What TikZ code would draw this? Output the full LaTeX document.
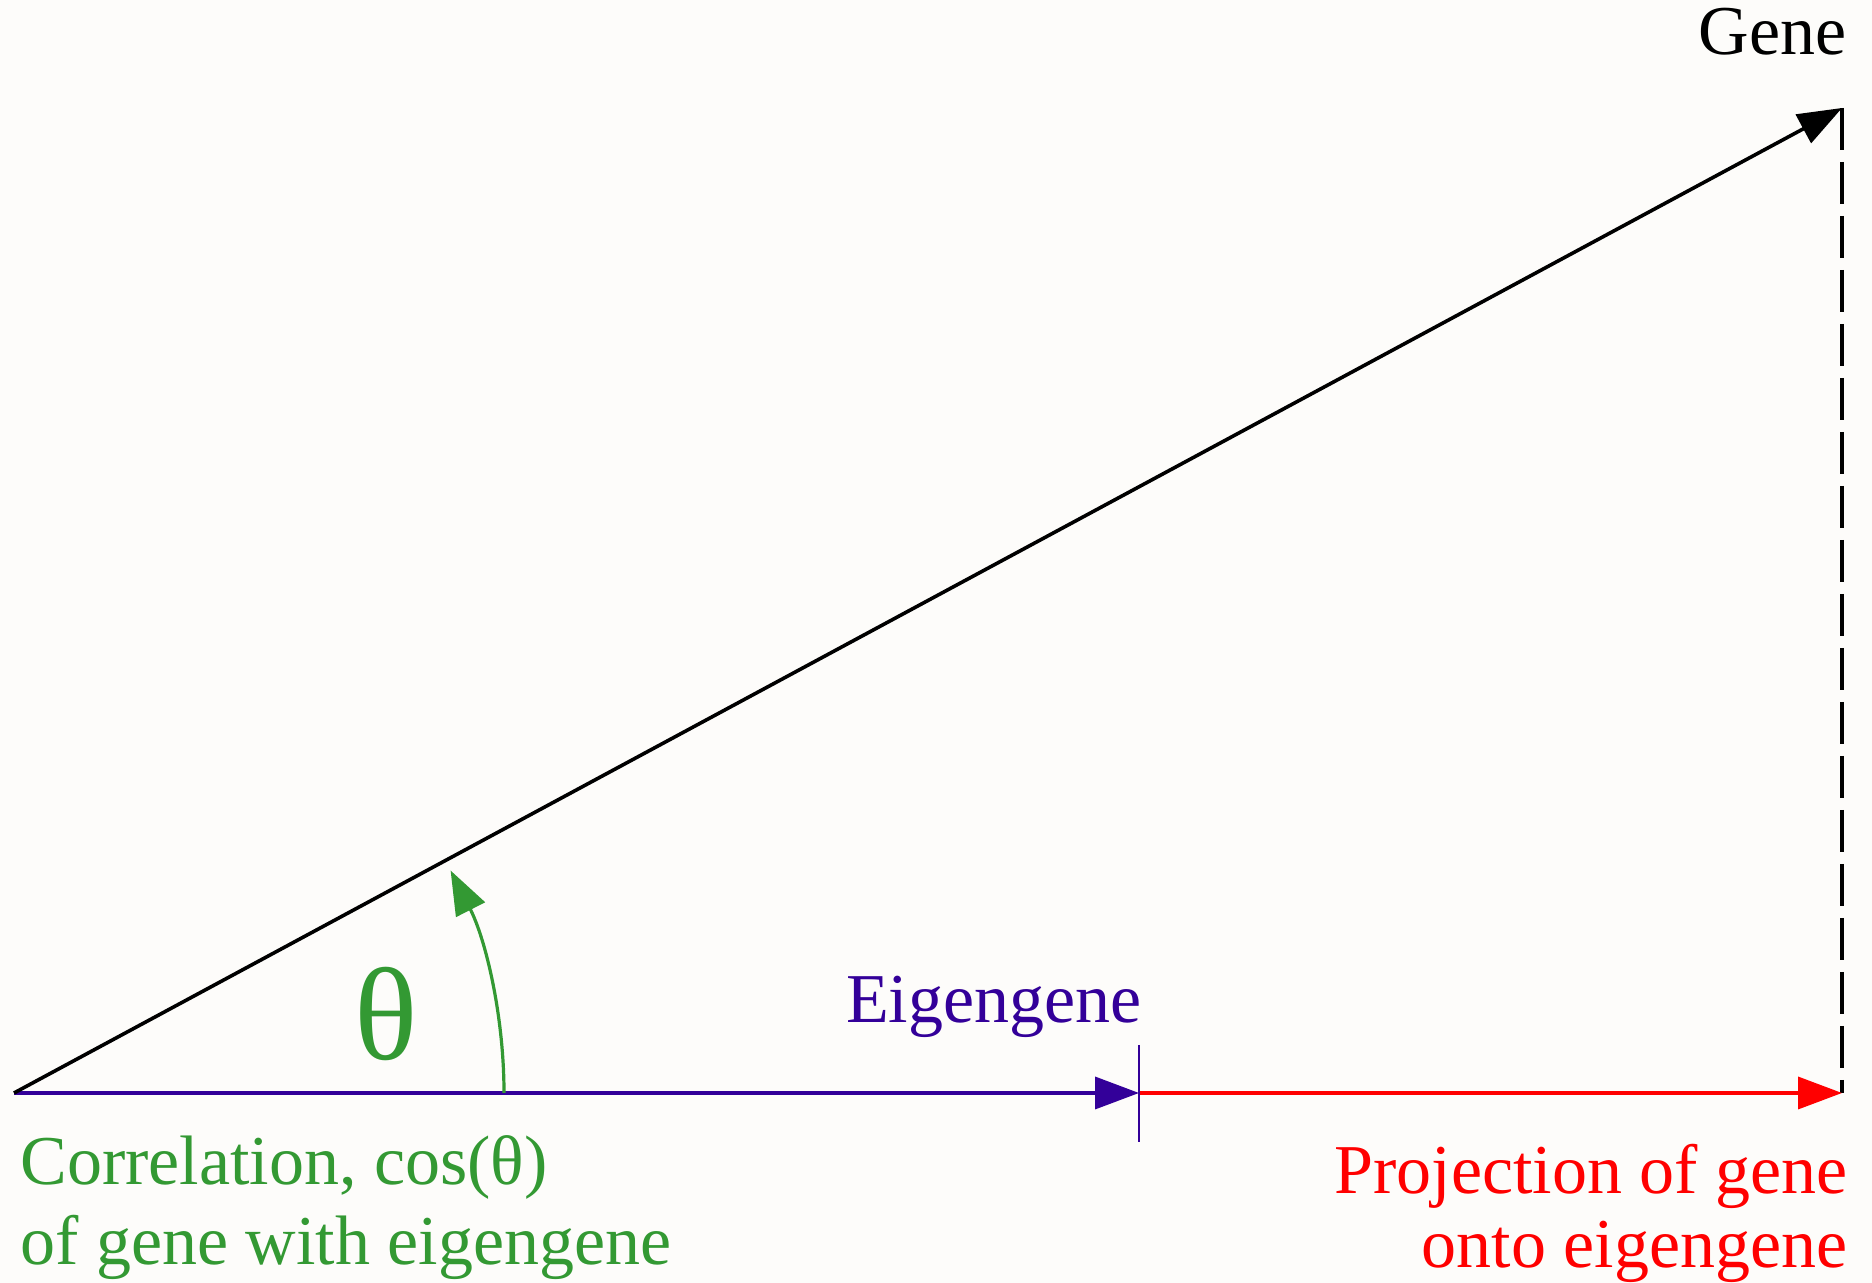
\documentclass[tikz,border=0pt]{standalone}
\usepackage{fontspec}
\setmainfont{Liberation Serif}
\usepackage{xcolor}
\usetikzlibrary{arrows.meta,positioning,calc}
\definecolor{eigpurple}{RGB}{51,0,153}
\definecolor{corrgreen}{RGB}{51,153,51}
\definecolor{projred}{RGB}{255,0,0}
\definecolor{paper}{RGB}{253,252,250}

\begin{document}
\begin{tikzpicture}[x=0.5pt, y=0.5pt, >={Triangle[length=22pt,width=16pt]},
  txt/.style={inner sep=0pt, font=\fontsize{35}{40}\selectfont},
  vec/.style={->, line width=1.8pt}]
\fill[paper] (0,0) rectangle (1872,1283);
\useasboundingbox (0,0) rectangle (1872,1283);
\coordinate (origin) at (14,190);
\coordinate (gene) at (1842,1175);
\coordinate (eig) at (1139,190);
\coordinate (proj) at (1842,190);
\coordinate (foot) at ($(origin)+(490,0)$);
% vectors
\draw[line width=1.7pt, dash pattern=on 21pt off 6pt] (gene) -- (proj);
\draw[vec, eigpurple] (origin) -- (eig);
\draw[vec, projred] (eig) -- (proj);
\draw[vec] (origin) -- (gene);
\draw[eigpurple, line width=1.2pt] ($(eig)+(0,48)$) -- ($(eig)+(0,-49)$);
% angle
\draw[->, corrgreen, line width=1.6pt] (foot) arc[start angle=0, end angle=27, radius=490];
\node[font=\fontsize{66}{66}\selectfont, text=corrgreen, anchor=base, inner sep=0pt] (theta) at (386,223) {θ};
% labels
\node[txt, anchor=base east] (genelbl) at (1847,1228) {Gene};
\node[txt, anchor=base east, text=eigpurple] (eiglbl) at (1142,260) {Eigengene};
\node[txt, anchor=base west, align=left, text=corrgreen] (corr) at (20,18) {Correlation, cos(θ)\\of gene with eigengene};
\node[txt, anchor=base east, align=right, text=projred, font=\fontsize{35}{37}\selectfont] (projlbl) at (1848,15) {Projection of gene\\onto eigengene};
\end{tikzpicture}
\end{document}
